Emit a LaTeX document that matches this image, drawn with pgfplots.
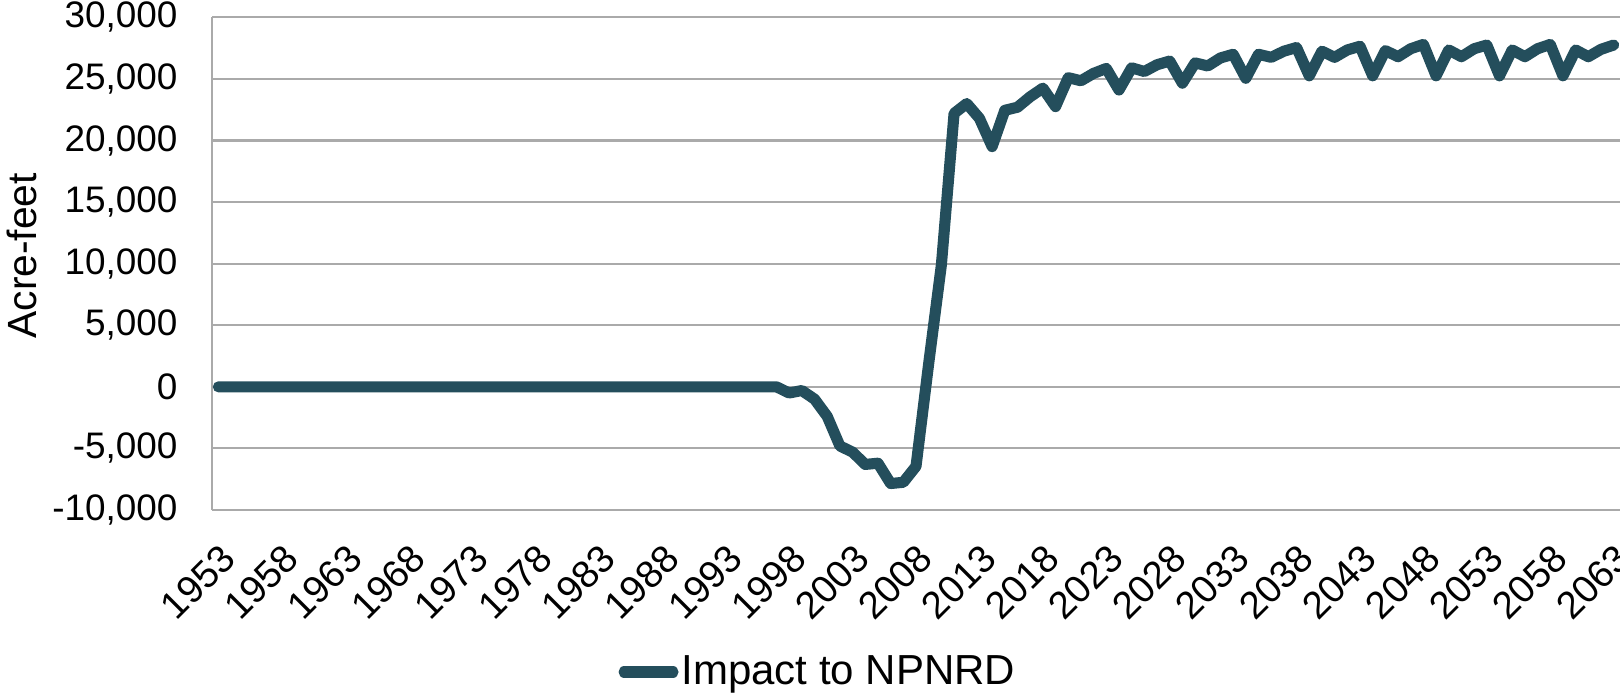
\documentclass[border=0pt]{standalone}
\usepackage{pgfplots}
\pgfplotsset{compat=1.18}
\usepackage{fontspec}
\setmainfont{Liberation Sans}
\definecolor{serie}{RGB}{36,78,92}
\definecolor{gridgray}{RGB}{170,170,170}
\begin{document}
\begin{tikzpicture}
\path[use as bounding box] (0,0) rectangle (540pt,230.67pt);
\begin{axis}[
  at={(70.67pt,60.67pt)}, anchor=south west,
  scale only axis, width=469.33pt, height=164.23pt,
  xmin=1952.5, xmax=2063.5, ymin=-10000, ymax=30000,
  ytick={-10000,-5000,...,30000},
  xtick={1953,1958,...,2063},
  scaled ticks=false,
  axis x line=bottom, axis y line=left,
  axis line style={-, draw=gridgray, line width=0.7pt},
  ymajorgrids, grid style={gridgray, line width=0.7pt},
  major tick length=0pt,
  tick label style={font=\fontsize{12.3}{14}\selectfont},
  /pgf/number format/.cd, 1000 sep={,}, assume math mode=true, /pgfplots/.cd,
  yticklabel style={anchor=east, inner sep=0pt},
  yticklabel shift=11.3pt,
  xticklabel style={rotate=45, anchor=north east, inner sep=0pt, font=\fontsize{12.8}{14}\selectfont, /pgf/number format/1000 sep={}},
  xticklabel shift=10.5pt,
  ylabel={Acre-feet},
  ylabel style={at={(axis description cs:-0.135,0.516)}, anchor=center, font=\fontsize{13.6}{16}\selectfont},
  legend style={at={(axis description cs:0.4307,-0.3288)}, anchor=center, draw=none,
    font=\fontsize{14}{16}\selectfont, inner sep=0pt, nodes={inner sep=1pt}},
  legend image code/.code={\draw[#1, line cap=round] (1.85pt,0pt) -- (18.15pt,0pt);},
]
\addplot[serie, line width=3.7pt, line join=round, line cap=round] table {
x y
1953 0
1954 0
1955 0
1956 0
1957 0
1958 0
1959 0
1960 0
1961 0
1962 0
1963 0
1964 0
1965 0
1966 0
1967 0
1968 0
1969 0
1970 0
1971 0
1972 0
1973 0
1974 0
1975 0
1976 0
1977 0
1978 0
1979 0
1980 0
1981 0
1982 0
1983 0
1984 0
1985 0
1986 0
1987 0
1988 0
1989 0
1990 0
1991 0
1992 0
1993 0
1994 0
1995 0
1996 0
1997 0
1998 -500
1999 -300
2000 -1000
2001 -2400
2002 -4800
2003 -5300
2004 -6300
2005 -6200
2006 -7850
2007 -7750
2008 -6450
2009 1900
2010 9900
2011 22200
2012 23000
2013 21800
2014 19500
2015 22450
2016 22700
2017 23550
2018 24250
2019 22750
2020 25100
2021 24850
2022 25450
2023 25850
2024 24100
2025 25900
2026 25600
2027 26150
2028 26450
2029 24650
2030 26300
2031 26050
2032 26700
2033 27000
2034 25050
2035 27000
2036 26750
2037 27250
2038 27550
2039 25250
2040 27250
2041 26750
2042 27350
2043 27650
2044 25250
2045 27300
2046 26800
2047 27450
2048 27800
2049 25250
2050 27350
2051 26800
2052 27450
2053 27750
2054 25250
2055 27350
2056 26800
2057 27450
2058 27800
2059 25250
2060 27350
2061 26800
2062 27400
2063 27750
};
\addlegendentry{Impact to NPNRD}
\end{axis}
\end{tikzpicture}
\end{document}
